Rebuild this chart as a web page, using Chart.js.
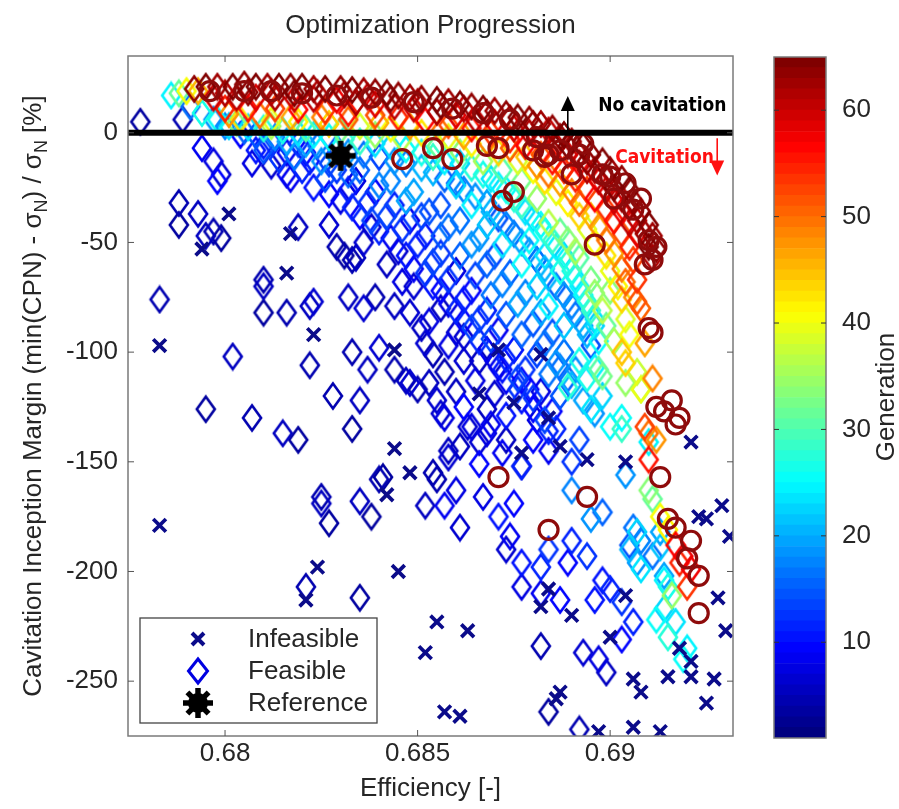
<!DOCTYPE html>
<html>
<head>
<meta charset="utf-8">
<script src="https://cdn.jsdelivr.net/npm/chart.js"></script>
<style>
  html, body { margin: 0; padding: 0; background: #fff; }
  #wrap { position: relative; width: 899px; height: 809px; }
  #main { position: absolute; left: 0; top: 0; }
  #cbar { position: absolute; left: 750px; top: 0; }
</style>
</head>
<body>
<div id="wrap">
  <canvas id="main" width="899" height="809"></canvas>
  <canvas id="cbar" width="149" height="809"></canvas>
</div>
<script>
'use strict';

// axes
var effRange = [0.67748, 0.69319];
var marginRange = [-275, 35];
var effTicks = [0.68, 0.685, 0.69];
var marginTicks = [-250, -200, -150, -100, -50, 0];
var genRange = [1, 65];
var genTicks = [10, 20, 30, 40, 50, 60];

var referencePoint = [0.6830, -10.5];

// [efficiency, margin]
var infeasible = [
  [0.6801,-37],[0.6794,-53],[0.6783,-97],[0.6783,-179],[0.6816,-64],[0.6817,-46],[0.6823,-92],
  [0.6824,-198],[0.6821,-213],[0.6844,-144],[0.6848,-155],[0.6842,-165],[0.6845,-200],[0.6844,-99],
  [0.6871,-99],[0.6866,-119],[0.6875,-123],[0.6882,-101],[0.6884,-130],[0.6877,-146],[0.6887,-143],
  [0.6894,-149],[0.6904,-150],[0.6921,-141],[0.6855,-223],[0.6863,-227],[0.6852,-237],[0.6884,-208],
  [0.6882,-216],[0.6890,-220],[0.6904,-211],[0.6900,-230],[0.6887,-255],[0.6886,-258],[0.6857,-264],
  [0.6861,-266],[0.6897,-273],[0.6906,-271],[0.6913,-273],[0.6906,-249],[0.6908,-255],[0.6915,-248],
  [0.6921,-248],[0.6927,-249],[0.6925,-260],[0.6921,-241],[0.6918,-235],[0.6923,-175],[0.6925,-176],
  [0.6929,-170],[0.6931,-184],[0.6928,-212],[0.6930,-227]
];

// last generation, [efficiency, margin]
var finalGeneration = [
  [0.6796,19],[0.6805,19],[0.6812,19],[0.6820,18],[0.6829,17],[0.6838,16],[0.6849,14],[0.6859,11],
  [0.6867,9],[0.6874,6],[0.6846,-12],[0.6854,-7],[0.6859,-12],[0.6868,-6],[0.6871,-7],[0.6872,-31],
  [0.6875,-27],[0.6880,-8],[0.6881,-2],[0.6883,-11],[0.6884,-10],[0.6887,-8],[0.6890,-19],[0.6892,-10],
  [0.6893,-5],[0.6896,-51],[0.6898,-19],[0.6900,-20],[0.6901,-30],[0.6904,-23],[0.6906,-35],[0.6908,-30],
  [0.6910,-49],[0.6912,-52],[0.6909,-60],[0.6911,-58],[0.6910,-89],[0.6911,-91],[0.6912,-125],[0.6914,-127],
  [0.6916,-122],[0.6917,-133],[0.6918,-130],[0.6913,-157],[0.6915,-176],[0.6917,-180],[0.6921,-186],
  [0.6920,-194],[0.6923,-202],[0.6923,-219],[0.6871,-157],[0.6894,-166],[0.6884,-181]
];

// feasible designs, [efficiency, margin, generation]
var feasibleEarly = [
  [0.6778,5,3],[0.6789,6,4],[0.6788,-32,4],[0.6788,-42,3],[0.6793,-37,5],[0.6797,-45,4],[0.6799,-48,3],
  [0.6795,-47,5],[0.6783,-76,4],[0.6802,-102,5],[0.6795,-126,3],[0.6807,-130,4],[0.6815,-137,5],
  [0.6819,-140,3],[0.6810,-67,4],[0.6810,-70,5],[0.6810,-82,3],[0.6816,-82,4],[0.6822,-79,5],[0.6823,-77,6],
  [0.6822,-106,4],[0.6819,-43,5],[0.6827,-42,6],[0.6829,-52,4],[0.6834,-57,5],[0.6838,-43,6],[0.6831,-56,3],
  [0.6833,-58,4],[0.6832,-75,5],[0.6836,-80,6],[0.6839,-75,4],[0.6844,-79,5],[0.6849,-70,6],[0.6828,-120,4],
  [0.6835,-122,5],[0.6833,-135,3],[0.6833,-100,4],[0.6837,-108,5],[0.6840,-98,6],[0.6844,-108,4],
  [0.6847,-113,5],[0.6848,-114,6],[0.6850,-117,4],[0.6853,-114,5],[0.6855,-122,6],[0.6857,-109,4],
  [0.6851,-89,5],[0.6852,-96,6],[0.6854,-101,4],[0.6856,-80,5],[0.6860,-91,6],[0.6841,-157,3],
  [0.6840,-158,4],[0.6835,-168,5],[0.6838,-175,3],[0.6825,-166,4],[0.6825,-169,5],[0.6827,-178,3],
  [0.6821,-207,4],[0.6835,-212,3],[0.6858,-145,5],[0.6863,-134,6],[0.6854,-155,4]
];

var feasibleBlue = [
  [0.6804,-1,9],[0.6810,-6,11],[0.6816,-9,8],[0.6822,-13,10],[0.6829,-17,12],[0.6834,-22,7],[0.6839,-27,9],
  [0.6844,-33,11],[0.6848,-40,8],[0.6852,-47,10],[0.6856,-55,12],[0.6860,-63,7],[0.6864,-72,9],
  [0.6868,-81,11],[0.6871,-90,8],[0.6875,-99,10],[0.6878,-108,12],[0.6882,-118,7],[0.6885,-127,9],
  [0.6812,-15,6],[0.6817,-21,8],[0.6823,-25,10],[0.6830,-31,7],[0.6835,-38,9],[0.6840,-45,11],[0.6845,-54,6],
  [0.6849,-62,8],[0.6854,-70,10],[0.6858,-78,7],[0.6862,-86,9],[0.6866,-95,11],[0.6870,-104,6],
  [0.6873,-113,8],[0.6877,-122,10],[0.6881,-131,7],
  [0.6827,-28,9],[0.6833,-34,11],[0.6838,-40,13],[0.6843,-48,8],[0.6847,-56,10],[0.6852,-64,12],
  [0.6856,-72,9],[0.6860,-81,11],[0.6864,-89,13],[0.6868,-99,8],[0.6872,-108,10],[0.6876,-117,12],
  [0.6880,-126,9],[0.6884,-136,11],
  [0.6814,-12,12],[0.6820,-17,11],[0.6826,-21,13],[0.6832,-26,10],[0.6837,-32,12],[0.6842,-38,13],
  [0.6846,-44,12],[0.6850,-51,11],[0.6854,-59,13],[0.6858,-67,12],[0.6862,-76,10],[0.6866,-85,12],
  [0.6869,-94,13],[0.6873,-103,11],[0.6876,-112,13],[0.6880,-121,12],[0.6883,-131,13],
  [0.6794,-7,8],[0.6797,-13,7],[0.6799,-19,6],[0.6798,-22,9],[0.6807,-14,7],[0.6808,-8,10],[0.6812,-4,11],
  [0.6819,-5,12],[0.6821,-9,9],[0.6816,-19,8],
  [0.6836,-50,6],[0.6842,-60,5],[0.6846,-68,7],[0.6848,-82,6],[0.6853,-86,7],[0.6858,-97,7],[0.6862,-104,6],
  [0.6860,-118,5],[0.6856,-128,6],[0.6868,-137,7],[0.6873,-140,5],
  [0.6862,-93,6],[0.6866,-104,5],[0.6865,-113,7],[0.6871,-107,8],[0.6870,-119,6],[0.6877,-113,9],
  [0.6868,-126,5],[0.6864,-134,7],[0.6866,-141,6],[0.6872,-146,8],[0.6877,-152,6],[0.6861,-143,5],
  [0.6879,-117,9],
  [0.6857,-130,7],[0.6862,-125,9],[0.6869,-133,8],[0.6873,-129,10],[0.6880,-140,9],[0.6886,-135,11],
  [0.6884,-145,8],[0.6890,-150,12],[0.6892,-140,13],
  [0.6858,-148,6],[0.6855,-158,4],[0.6860,-163,7],[0.6852,-170,5],[0.6857,-170,8],[0.6861,-180,6],
  [0.6866,-151,9],[0.6867,-166,7],[0.6871,-175,10],[0.6874,-184,8],[0.6877,-152,11],[0.6875,-169,9],
  [0.6873,-190,6],[0.6877,-196,10],[0.6877,-207,7],[0.6882,-198,11],[0.6882,-210,8],[0.6884,-190,12],
  [0.6889,-196,9],[0.6890,-186,11],[0.6894,-193,12],[0.6898,-204,10],[0.6900,-208,11],[0.6903,-214,12],
  [0.6906,-223,11],[0.6887,-213,9],[0.6896,-213,10],[0.6903,-231,9],
  [0.6882,-234,4],[0.6893,-237,6],[0.6897,-240,7],[0.6884,-264,3],[0.6892,-272,4],[0.6899,-246,5]
];

var feasibleLightBlue = [
  [0.6791,12,16],[0.6797,6,18],[0.6805,1,15],[0.6813,-2,17],[0.6821,-5,19],[0.6829,-7,14],[0.6836,-10,16],
  [0.6844,-13,18],[0.6851,-16,20],[0.6857,-21,15],[0.6862,-26,17],[0.6868,-32,19],[0.6871,-39,14],
  [0.6875,-46,16],[0.6879,-54,18],[0.6883,-62,20],[0.6886,-70,15],[0.6890,-79,17],[0.6893,-88,19],
  [0.6895,-97,14],
  [0.6827,-14,13],[0.6835,-17,15],[0.6843,-22,17],[0.6849,-27,19],[0.6856,-33,14],[0.6861,-40,16],
  [0.6866,-48,18],[0.6870,-56,13],[0.6874,-64,15],[0.6878,-73,17],[0.6882,-82,19],[0.6885,-91,14],
  [0.6888,-100,16],[0.6891,-108,18],
  [0.6851,-38,13],[0.6856,-47,14],[0.6861,-56,15],[0.6865,-65,13],[0.6869,-74,16],[0.6873,-83,14],
  [0.6877,-92,15],[0.6881,-101,13],[0.6884,-110,16],[0.6887,-120,14],
  [0.6810,-8,14],[0.6818,-11,16],[0.6825,-13,18],[0.6832,-19,15],[0.6840,-24,17],[0.6847,-31,19],
  [0.6853,-36,14],[0.6858,-43,16],[0.6864,-51,18],[0.6868,-60,15],[0.6872,-69,17],[0.6876,-78,19],
  [0.6880,-87,14],[0.6883,-96,16],[0.6886,-105,18],[0.6889,-112,15],
  [0.6800,3,17],[0.6808,-1,14],[0.6816,-4,19],[0.6824,-6,16],[0.6832,-9,18],[0.6840,-11,13],
  [0.6847,-14,17],[0.6854,-18,20],[0.6860,-23,15],[0.6865,-29,18],[0.6869,-36,20],[0.6873,-42,17],
  [0.6877,-50,19],[0.6881,-58,16],[0.6884,-66,20],[0.6888,-74,18],[0.6891,-83,16],[0.6894,-92,20],
  [0.6887,-107,16],[0.6890,-115,20],[0.6893,-122,19],[0.6896,-128,18],
  [0.6890,-163,17],[0.6898,-173,15],[0.6895,-176,18],[0.6906,-180,16],[0.6908,-186,17],[0.6905,-188,14],
  [0.6907,-196,18],[0.6911,-193,16],[0.6914,-202,19],[0.6904,-156,18]
];

var feasibleCyan = [
  [0.6786,17,24],[0.6794,9,26],[0.6801,3,22],[0.6810,2,27],[0.6819,0,23],[0.6827,-2,25],[0.6835,-4,28],
  [0.6843,-6,22],[0.6851,-9,26],[0.6857,-13,24],[0.6864,-16,27],[0.6869,-21,23],[0.6873,-26,25],
  [0.6877,-33,28],[0.6880,-39,22],[0.6883,-45,26],[0.6886,-52,24],[0.6889,-59,27],[0.6891,-66,23],
  [0.6893,-74,25],[0.6895,-81,28],[0.6896,-88,22],
  [0.6798,6,25],[0.6806,2.5,23],[0.6815,1,26],[0.6823,-1,24],[0.6831,-3,27],[0.6839,-5,23],
  [0.6847,-7.5,25],[0.6854,-11,28],[0.6861,-14,22],[0.6867,-19,26],[0.6871,-24,24],[0.6875,-30,27],
  [0.6878,-36,23],[0.6882,-42,25],[0.6885,-49,28],[0.6888,-56,22],[0.6890,-63,26],[0.6892,-70,24],
  [0.6894,-77,27],[0.6896,-85,23],[0.6897,-95,25],[0.6894,-112,26],[0.6898,-120,22],
  [0.6892,-104,26],[0.6896,-107,24],[0.6889,-116,27],[0.6895,-126,23],[0.6903,-130,25],[0.6903,-135,28],
  [0.6910,-141,24],[0.6900,-134,25],
  [0.6860,-24,22],[0.6864,-33,24],[0.6868,-42,21],[0.6872,-51,23],[0.6877,-60,25],[0.6881,-70,22],
  [0.6884,-79,24],[0.6888,-88,21],[0.6887,-63,26],[0.6883,-56,23],[0.6879,-49,25],
  [0.6907,-182,22],[0.6905,-190,20],[0.6908,-199,23],[0.6913,-189,21],[0.6914,-204,24],[0.6915,-207,26],
  [0.6914,-217,22],[0.6912,-222,25],[0.6917,-223,23],[0.6915,-230,27],[0.6919,-240,25],[0.6920,-235,24],
  [0.6913,-182,19]
];

var feasibleGreen = [
  [0.6788,18,31],[0.6803,4.5,33],[0.6812,3,35],[0.6821,2,30],[0.6830,1,32],[0.6839,-1,34],[0.6846,-3,36],
  [0.6855,-6,31],[0.6861,-9,33],[0.6867,-13,35],[0.6872,-17,30],[0.6877,-22,32],[0.6881,-30,34],
  [0.6884,-41,36],[0.6887,-45,31],[0.6889,-49,33],[0.6891,-54,35],[0.6892,-57,30],[0.6895,-67,32],
  [0.6896,-73,34],[0.6898,-81,36],[0.6900,-72,33],[0.6899,-88,31],[0.6901,-95,35],[0.6897,-108,30],
  [0.6898,-111,32],[0.6904,-114,34],[0.6908,-117,36],[0.6910,-163,33],[0.6911,-167,31],[0.6916,-211,34]
];

var feasibleYellow = [
  [0.6790,19,40],[0.6804,6,42],[0.6812,5.5,39],[0.6819,5,41],[0.6827,4,43],[0.6835,3,38],[0.6843,2,40],
  [0.6851,0,42],[0.6858,-2,39],[0.6864,-5,41],[0.6871,-9,43],[0.6876,-13,38],[0.6880,-17,40],
  [0.6883,-22,42],[0.6886,-27,39],[0.6889,-32,41],[0.6892,-38,43],[0.6894,-44,38],[0.6896,-50,40],
  [0.6899,-56,42],[0.6900,-63,39],[0.6902,-70,41],[0.6903,-76,43],[0.6904,-85,38],[0.6905,-92,40],
  [0.6907,-109,37],[0.6908,-117,39],[0.6915,-181,41],[0.6913,-175,40]
];

var feasibleOrange = [
  [0.6793,19,45],[0.6801,8.5,47],[0.6809,8,49],[0.6817,7,46],[0.6825,7,48],[0.6832,6,50],[0.6840,4.5,45],
  [0.6848,3,47],[0.6856,1,49],[0.6862,-1.5,46],[0.6868,-4,48],[0.6874,-7,50],[0.6878,-11,44],
  [0.6881,-15,47],[0.6884,-19,49],[0.6887,-23,46],[0.6890,-27,48],[0.6892,-32,50],[0.6895,-38,45],
  [0.6897,-43,47],[0.6899,-49,49],[0.6901,-55,46],[0.6903,-62,48],[0.6904,-68,50],[0.6906,-75,47],
  [0.6903,-100,44],[0.6904,-105,43],[0.6909,-96,46],[0.6911,-112,48],[0.6912,-140,47]
];

var feasibleRed = [
  [0.6800,11,54],[0.6806,11,55],[0.6813,11,52],[0.6819,10.5,56],[0.6826,10,53],[0.6832,9,55],[0.6839,8,51],
  [0.6845,7,54],[0.6852,5.5,56],[0.6858,3.5,52],[0.6864,2,55],[0.6869,0,53],[0.6874,-3,54],[0.6878,-6,56],
  [0.6882,-10,51],[0.6885,-13,55],[0.6888,-17,53],[0.6891,-21,54],[0.6894,-26,52],[0.6896,-30,56],
  [0.6899,-35,53],[0.6901,-40,55],[0.6903,-46,51],[0.6905,-52,54],[0.6906,-58,52],[0.6907,-67,53],
  [0.6907,-77,51],[0.6908,-80,50],[0.6909,-134,52],[0.6910,-137,49],[0.6910,-149,55],[0.6917,-188,56],
  [0.6918,-196,54],[0.6919,-193,57],[0.6920,-207,53],[0.6921,-199,57]
];

var feasibleDarkRed = [
  [0.6792,20,63],[0.6795,21,64],[0.6798,21,62],[0.6802,21,64],[0.6805,22,63],[0.6808,21,64],[0.6811,21,62],
  [0.6814,21,64],[0.6817,21,63],[0.6820,21,64],[0.6823,20,62],[0.6826,20,64],[0.6830,20,63],
  [0.6833,19.5,64],[0.6836,19,62],[0.6839,18.5,63],[0.6842,18,64],[0.6845,17,63],[0.6848,16,62],
  [0.6851,15.5,63],[0.6855,15,64],[0.6858,14,62],[0.6861,13,64],[0.6864,12,63],[0.6867,11,64],
  [0.6870,10,62],[0.6873,8.5,63],[0.6876,7,64],[0.6879,6,63],[0.6882,4,62],[0.6885,2,63],[0.6888,-1,64],
  [0.6890,-4,62],[0.6893,-6,64],[0.6895,-10,63],[0.6898,-13,64],[0.6900,-17,62],[0.6903,-21,63],
  [0.6905,-26,64],[0.6906,-31,62],[0.6908,-36,63],[0.6910,-42,64],[0.6911,-47,62],[0.6912,-53,63],
  [0.6800,18,61],[0.6806,18.5,63],[0.6812,18.5,60],[0.6818,18,64],[0.6824,18,61],[0.6831,17.5,62],
  [0.6837,16.5,60],[0.6843,15.5,63],[0.6850,14,61],[0.6856,12.5,64],[0.6862,11,60],[0.6868,9,62],
  [0.6874,6.5,61],[0.6880,4,63],[0.6884,1,60],[0.6887,-2,62],[0.6889,-6,64],[0.6892,-10,61],
  [0.6894,-13,63],[0.6896,-17,60],[0.6899,-21,62],[0.6901,-25,64],[0.6903,-30,61],[0.6905,-34,63],
  [0.6907,-40,60],[0.6909,-46,62],[0.6910,-52,64],[0.6911,-57,61],
  [0.6797,16,59],[0.6803,16,60],[0.6808,16,58],[0.6813,16,61],[0.6818,15.5,59],[0.6823,15.5,60],
  [0.6829,15,57],[0.6834,14,61],[0.6839,13,58],[0.6844,12,60],[0.6849,11,59],[0.6855,9.5,61],
  [0.6860,8,58],[0.6865,6,60],[0.6870,4.5,57],[0.6875,2,59],[0.6879,0,61],[0.6882,-3,58],[0.6886,-6,60],
  [0.6889,-10,59],[0.6892,-14,57],[0.6894,-17,61],[0.6897,-22,58],[0.6899,-26,60],[0.6901,-31,59],
  [0.6903,-36,57],[0.6905,-41,60],[0.6907,-46,58]
];

var FONT = "'Liberation Sans', Arial, Helvetica, sans-serif";
var TEXT = '#262626';
var NAVY = '#0b0b8a';
var DARK_RED = '#8e0b0b';

Chart.defaults.font.family = FONT;
Chart.defaults.font.size = 26;
Chart.defaults.color = TEXT;

// 64-level jet colormap, like the MATLAB one
function jetColor(idx) {
    var v = idx / 63;
    var c = function(t) { return Math.round(255 * Math.max(0, Math.min(1, t))); };
    return 'rgb(' + c(1.5 - Math.abs(4 * v - 3)) + ',' + c(1.5 - Math.abs(4 * v - 2)) + ',' +
        c(1.5 - Math.abs(4 * v - 1)) + ')';
}
function genIndex(g) {
    return Math.max(0, Math.min(63, Math.floor(g - genRange[0])));
}

function makeDiamond(color) {
    var c = document.createElement('canvas');
    c.width = 24; c.height = 30;
    var x = c.getContext('2d');
    x.strokeStyle = color; x.lineWidth = 2.6;
    x.beginPath();
    x.moveTo(12, 2.5); x.lineTo(21, 15); x.lineTo(12, 27.5); x.lineTo(3, 15);
    x.closePath(); x.stroke();
    return c;
}
function makeStar() {
    var c = document.createElement('canvas');
    c.width = 36; c.height = 36;
    var x = c.getContext('2d');
    x.strokeStyle = '#000'; x.fillStyle = '#000'; x.lineWidth = 5.5;
    for (var k = 0; k < 4; k++) {
        var a = k * Math.PI / 4, dx = 15 * Math.cos(a), dy = 15 * Math.sin(a);
        x.beginPath(); x.moveTo(18 - dx, 18 - dy); x.lineTo(18 + dx, 18 + dy); x.stroke();
    }
    x.beginPath(); x.arc(18, 18, 10, 0, 2 * Math.PI); x.fill();
    return c;
}

var diamonds = [];
for (var i = 0; i < 64; i++) diamonds.push(makeDiamond(jetColor(i)));
var starImg = makeStar();

var feasible = [].concat(feasibleEarly, feasibleBlue, feasibleLightBlue, feasibleCyan, feasibleGreen,
    feasibleYellow, feasibleOrange, feasibleRed, feasibleDarkRed)
    .sort(function(a, b) { return a[2] - b[2]; })
    .map(function(p) { return {x: p[0], y: p[1], g: p[2]}; });
var xy = function(p) { return {x: p[0], y: p[1]}; };

function vArrow(ctx, x, y0, y1, color) {
    var dir = y1 < y0 ? 1 : -1;
    ctx.strokeStyle = color; ctx.fillStyle = color; ctx.lineWidth = 1.6;
    ctx.beginPath(); ctx.moveTo(x, y0); ctx.lineTo(x, y1 + dir * 12); ctx.stroke();
    ctx.beginPath();
    ctx.moveTo(x, y1); ctx.lineTo(x - 7, y1 + dir * 15); ctx.lineTo(x + 7, y1 + dir * 15);
    ctx.closePath(); ctx.fill();
}

var mainDecor = {
    id: 'mainDecor',
    afterDatasetsDraw: function(chart) {
        var ctx = chart.ctx, ca = chart.chartArea, xs = chart.scales.x, ys = chart.scales.y;
        ctx.save();
        ctx.strokeStyle = '#7a7a7a'; ctx.lineWidth = 1.5;
        ctx.strokeRect(ca.left, ca.top, ca.right - ca.left, ca.bottom - ca.top);
        ctx.lineWidth = 1; ctx.strokeStyle = '#555';
        ctx.beginPath();
        effTicks.forEach(function(v) {
            var p = xs.getPixelForValue(v);
            ctx.moveTo(p, ca.bottom); ctx.lineTo(p, ca.bottom - 6);
            ctx.moveTo(p, ca.top); ctx.lineTo(p, ca.top + 6);
        });
        marginTicks.forEach(function(v) {
            var p = ys.getPixelForValue(v);
            ctx.moveTo(ca.left, p); ctx.lineTo(ca.left + 6, p);
            ctx.moveTo(ca.right, p); ctx.lineTo(ca.right - 6, p);
        });
        ctx.stroke();

        // cavitation notes
        vArrow(ctx, xs.getPixelForValue(0.6889), ys.getPixelForValue(0), ys.getPixelForValue(16.8), '#000');
        vArrow(ctx, xs.getPixelForValue(0.69278), ys.getPixelForValue(-2.5), ys.getPixelForValue(-19.5), '#ff1010');
        ctx.textBaseline = 'middle'; ctx.textAlign = 'left';
        ctx.font = "bold 19px 'Liberation Sans Narrow', 'DejaVu Sans Condensed', sans-serif";
        ctx.fillStyle = '#000';
        ctx.fillText('No cavitation', xs.getPixelForValue(0.68969), ys.getPixelForValue(12.3));
        ctx.fillStyle = '#ff1010';
        ctx.fillText('Cavitation', xs.getPixelForValue(0.69013), ys.getPixelForValue(-11.4));

        // legend
        var lx = ca.left + 12, ly = ca.bottom - 118, lw = 237, lh = 105;
        ctx.fillStyle = '#fff'; ctx.fillRect(lx, ly, lw, lh);
        ctx.strokeStyle = '#444'; ctx.lineWidth = 1.3; ctx.strokeRect(lx, ly, lw, lh);
        var sx = lx + 58, tx = lx + 108, rows = [ly + 21, ly + 53, ly + 85];
        ctx.strokeStyle = NAVY; ctx.lineWidth = 4;
        ctx.beginPath();
        ctx.moveTo(sx - 6, rows[0] - 6); ctx.lineTo(sx + 6, rows[0] + 6);
        ctx.moveTo(sx + 6, rows[0] - 6); ctx.lineTo(sx - 6, rows[0] + 6);
        ctx.stroke();
        ctx.strokeStyle = jetColor(6); ctx.lineWidth = 3;
        ctx.beginPath();
        ctx.moveTo(sx, rows[1] - 12); ctx.lineTo(sx + 9.5, rows[1]); ctx.lineTo(sx, rows[1] + 12);
        ctx.lineTo(sx - 9.5, rows[1]); ctx.closePath(); ctx.stroke();
        ctx.drawImage(starImg, sx - 18, rows[2] - 18);
        ctx.fillStyle = TEXT; ctx.font = '26px ' + FONT;
        ['Infeasible', 'Feasible', 'Reference'].forEach(function(t, k) { ctx.fillText(t, tx, rows[k] + 1); });
        ctx.restore();
    },
    afterDraw: function(chart) {
        var ctx = chart.ctx, ca = chart.chartArea;
        var runs = [['Cavitation Inception Margin (min(CPN) - \u03c3', false], ['N', true], [') / \u03c3', false],
            ['N', true], [' [%]', false]];
        ctx.save();
        ctx.translate(34, (ca.top + ca.bottom) / 2);
        ctx.rotate(-Math.PI / 2);
        ctx.fillStyle = TEXT; ctx.textBaseline = 'middle'; ctx.textAlign = 'left';
        var total = 0;
        runs.forEach(function(r) { ctx.font = (r[1] ? '18px ' : '26px ') + FONT; total += ctx.measureText(r[0]).width; });
        var x = -total / 2;
        runs.forEach(function(r) {
            ctx.font = (r[1] ? '18px ' : '26px ') + FONT;
            ctx.fillText(r[0], x, r[1] ? 8 : 0);
            x += ctx.measureText(r[0]).width;
        });
        ctx.restore();
    }
};

new Chart(document.getElementById('main'), {
    type: 'scatter',
    data: {
        datasets: [{
            label: 'Reference',
            data: [xy(referencePoint)],
            pointStyle: starImg, pointRadius: 15,
            order: 0
        }, {
            type: 'line',
            label: 'Cavitation limit',
            data: [{x: effRange[0], y: 0}, {x: effRange[1], y: 0}],
            borderColor: '#000', borderWidth: 6, pointRadius: 0,
            order: 1
        }, {
            label: 'Final generation',
            data: finalGeneration.map(xy),
            pointStyle: 'circle', pointRadius: 9.5, borderWidth: 3.2,
            borderColor: DARK_RED, backgroundColor: 'rgba(0,0,0,0)',
            order: 2
        }, {
            label: 'Infeasible',
            data: infeasible.map(xy),
            pointStyle: 'crossRot', pointRadius: 9, borderWidth: 3.7,
            borderColor: NAVY, backgroundColor: NAVY,
            order: 3
        }, {
            label: 'Feasible',
            data: feasible,
            pointStyle: function(c) { return c.raw ? diamonds[genIndex(c.raw.g)] : 'rectRot'; },
            pointRadius: 11,
            order: 4
        }]
    },
    options: {
        responsive: false,
        animation: false,
        events: [],
        layout: {padding: {left: 0, right: 166, top: 0, bottom: 0}},
        plugins: {
            legend: {display: false},
            tooltip: {enabled: false},
            title: {
                display: true, text: 'Optimization Progression', fullSize: false,
                font: {size: 26, weight: 'normal'}, color: TEXT,
                padding: {top: 10, bottom: 14.8}
            }
        },
        scales: {
            x: {
                type: 'linear', min: effRange[0], max: effRange[1],
                grid: {display: false, tickLength: 0}, border: {display: false},
                afterFit: function(s) { s.height = 73; },
                afterBuildTicks: function(s) { s.ticks = effTicks.map(function(v) { return {value: v}; }); },
                ticks: {padding: 2, maxRotation: 0, autoSkip: false, callback: function(v) { return String(v); }},
                title: {display: true, text: 'Efficiency [-]', color: TEXT, font: {size: 26},
                    padding: {top: 0, bottom: 4.4}}
            },
            y: {
                type: 'linear', min: marginRange[0], max: marginRange[1],
                grid: {display: false, tickLength: 0}, border: {display: false},
                afterFit: function(s) { s.width = 128; },
                afterBuildTicks: function(s) { s.ticks = marginTicks.map(function(v) { return {value: v}; }); },
                ticks: {padding: 10, autoSkip: false, callback: function(v) { return String(v); }}
            }
        }
    },
    plugins: [mainDecor]
});

// colour bar
var genLevels = [];
for (var g = genRange[0]; g < genRange[1]; g++) genLevels.push(g);

var cbarDecor = {
    id: 'cbarDecor',
    afterDatasetsDraw: function(chart) {
        var ctx = chart.ctx, ca = chart.chartArea, ys = chart.scales.y;
        ctx.save();
        ctx.strokeStyle = '#7a7a7a'; ctx.lineWidth = 1.5;
        ctx.strokeRect(ca.left, ca.top, ca.right - ca.left, ca.bottom - ca.top);
        ctx.strokeStyle = '#333'; ctx.lineWidth = 1;
        ctx.beginPath();
        genTicks.forEach(function(v) {
            var p = ys.getPixelForValue(v);
            ctx.moveTo(ca.left, p); ctx.lineTo(ca.left + 5, p);
            ctx.moveTo(ca.right, p); ctx.lineTo(ca.right - 5, p);
        });
        ctx.stroke();
        ctx.restore();
    },
    afterDraw: function(chart) {
        var ctx = chart.ctx;
        ctx.save();
        ctx.translate(137, 397);
        ctx.rotate(-Math.PI / 2);
        ctx.fillStyle = TEXT; ctx.font = '26px ' + FONT;
        ctx.textAlign = 'center'; ctx.textBaseline = 'middle';
        ctx.fillText('Generation', 0, 0);
        ctx.restore();
    }
};

new Chart(document.getElementById('cbar'), {
    type: 'bar',
    data: {
        labels: ['Generation'],
        datasets: genLevels.map(function(g) {
            return {
                data: [[g, g + 1]],
                backgroundColor: jetColor(genIndex(g)),
                borderWidth: 0, grouped: false,
                barPercentage: 1, categoryPercentage: 1
            };
        })
    },
    options: {
        responsive: false,
        animation: false,
        events: [],
        layout: {padding: {left: 24, right: 0, top: 57, bottom: 71}},
        plugins: {legend: {display: false}, tooltip: {enabled: false}},
        scales: {
            x: {display: false},
            y: {
                position: 'right', min: genRange[0], max: genRange[1],
                grid: {display: false, tickLength: 0}, border: {display: false},
                afterFit: function(s) { s.width = 73; },
                afterBuildTicks: function(s) { s.ticks = genTicks.map(function(v) { return {value: v}; }); },
                ticks: {padding: 16, autoSkip: false}
            }
        }
    },
    plugins: [cbarDecor]
});
</script>
</body>
</html>
